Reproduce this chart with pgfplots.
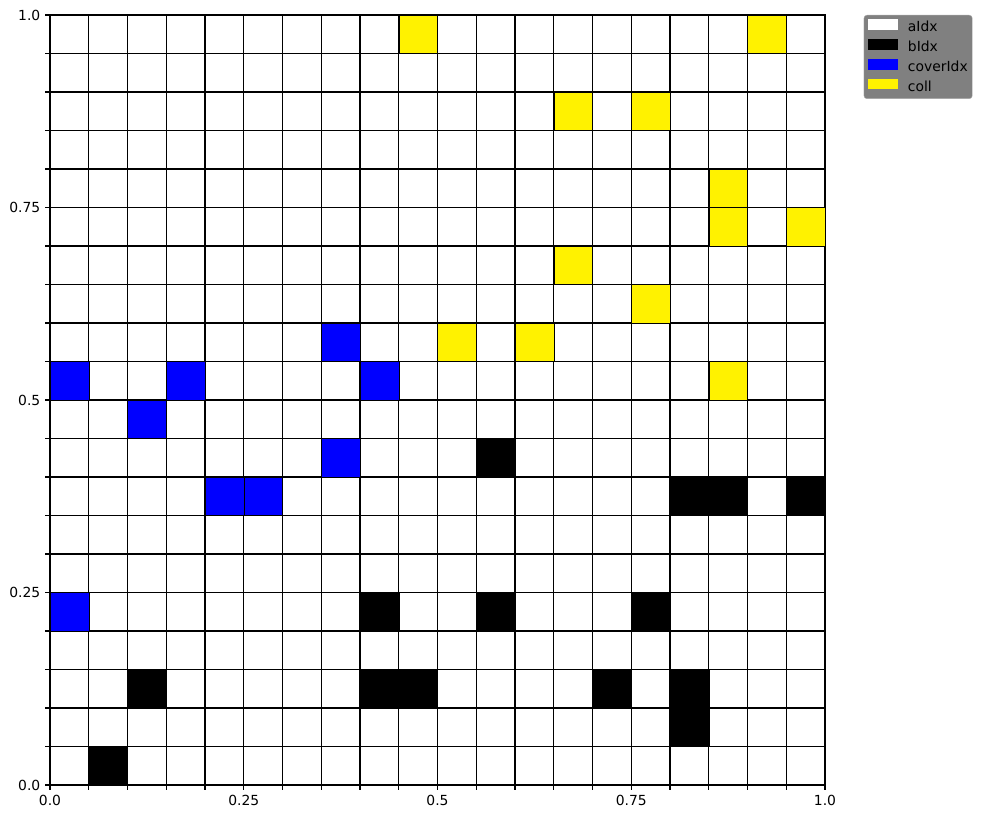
\documentclass[border=0pt]{standalone}
\usepackage{fontspec}
\setmainfont{DejaVu Sans}
\usepackage{pgfplots}
\pgfplotsset{compat=1.18}
\begin{document}
\fontsize{13.9}{16.7}\selectfont
\begin{tikzpicture}
\begin{axis}[
  scale only axis, width=775pt, height=770pt,
  xmin=0, xmax=1, ymin=0, ymax=1,
  axis on top,
  xtick={0,0.05,0.1,0.15,0.2,0.25,0.3,0.35,0.4,0.45,0.5,0.55,0.6,0.65,0.7,0.75,0.8,0.85,0.9,0.95,1},
  ytick={0,0.05,0.1,0.15,0.2,0.25,0.3,0.35,0.4,0.45,0.5,0.55,0.6,0.65,0.7,0.75,0.8,0.85,0.9,0.95,1},
  xticklabels={0.0,,,,,0.25,,,,,0.5,,,,,0.75,,,,,1.0},
  yticklabels={0.0,,,,,0.25,,,,,0.5,,,,,0.75,,,,,1.0},
  tick pos=left,
  tick align=outside,
  major tick length=4.86pt,
  tick style={black, line width=1.1pt},
  grid=major,
  major grid style={black, line width=1.1pt},
  axis line style={black, line width=1.1pt},
  tick label style={font=\fontsize{13.9}{16.7}\selectfont},
  legend style={at={(1.05,1)}, anchor=north west, fill=gray, draw=gray!70!white,
    rounded corners=3pt, inner xsep=4.5pt, inner ysep=4.3pt, row sep=4.3pt,
    font=\fontsize{13.9}{16.7}\selectfont,
    nodes={inner sep=0pt, text height=10pt, text depth=3pt},
    column sep=10pt},
  legend cell align=left,
  legend image code/.code={\fill[#1, draw=none, sharp corners] (0pt,-1.5pt) rectangle (29.5pt,9pt);},
]
% bIdx (cell centres)
\addplot[only marks, mark=square*, mark size=19.4pt, mark options={fill=black, draw=none}, forget plot] coordinates {
(0.575,0.425) (0.825,0.375) (0.875,0.375) (0.975,0.375)
(0.425,0.225) (0.575,0.225) (0.775,0.225)
(0.125,0.125) (0.425,0.125) (0.475,0.125) (0.725,0.125) (0.825,0.125)
(0.825,0.075) (0.075,0.025)
};
% coverIdx
\addplot[only marks, mark=square*, mark size=19.4pt, mark options={fill=blue, draw=none}, forget plot] coordinates {
(0.375,0.575) (0.025,0.525) (0.175,0.525) (0.425,0.525)
(0.125,0.475) (0.375,0.425) (0.225,0.375) (0.275,0.375) (0.025,0.225)
};
% coll
\addplot[only marks, mark=square*, mark size=19.4pt, mark options={fill=yellow, draw=none}, forget plot] coordinates {
(0.475,0.975) (0.925,0.975) (0.675,0.875) (0.775,0.875)
(0.875,0.775) (0.875,0.725) (0.975,0.725) (0.675,0.675)
(0.775,0.625) (0.525,0.575) (0.625,0.575) (0.875,0.525)
};
\addlegendimage{fill=white}
\addlegendentry{aIdx}
\addlegendimage{fill=black}
\addlegendentry{bIdx}
\addlegendimage{fill=blue}
\addlegendentry{coverIdx}
\addlegendimage{fill=yellow}
\addlegendentry{coll}
\end{axis}
\pgfresetboundingbox
\path[use as bounding box] ([xshift=-50pt,yshift=-34pt]current axis.south west) rectangle ([xshift=158pt,yshift=15pt]current axis.north east);
\end{tikzpicture}
\end{document}
